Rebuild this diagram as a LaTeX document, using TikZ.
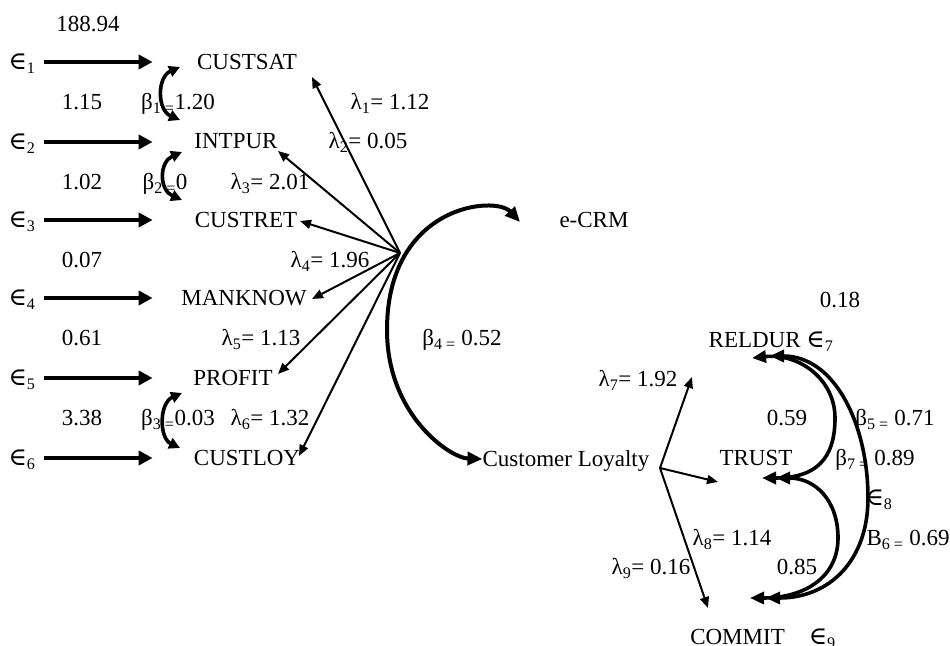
\documentclass[tikz,border=0pt]{standalone}
\usepackage{fontspec}
\setmainfont{Liberation Serif}
\newfontfamily\symfont[Scale=1.08]{DejaVu Serif}
\usetikzlibrary{arrows.meta}
\newcommand\lowidx[1]{\textsubscript{#1}}
\newcommand\eps{{\symfont ∈}}

\begin{document}
\begin{tikzpicture}[x=1pt,y=1pt,
  lbl/.style={inner sep=0pt, text height=15pt, text depth=0pt,
              font=\fontsize{23}{26}\selectfont},
  errarrow/.style={line width=4pt, -{Triangle[length=14pt,width=14pt]}},
  loadarrow/.style={line width=2pt, -{Triangle[length=11pt,width=9pt]}},
  covarrow/.style={line width=3.6pt,
     {Triangle[length=11pt,width=11pt]}-{Triangle[length=11pt,width=11pt]}},
  bigcurve/.style={line width=4pt,
     {Triangle[length=15pt,width=13pt]}-{Triangle[length=15pt,width=13pt]}},
  rightcurve/.style={line width=3.6pt,
     {Triangle[length=14pt,width=12pt]}-{Triangle[length=14pt,width=12pt]}}]
\useasboundingbox (0,0) rectangle (950,645);

% ---------------- left block: errors and indicators ----------------
\node[lbl] (v188) at (88,621) {188.94};
\node[lbl] (v115) at (82,543) {1.15};
\node[lbl] (v102) at (82,463) {1.02};
\node[lbl] (v007) at (82,385) {0.07};
\node[lbl] (v061) at (82,307) {0.61};
\node[lbl] (v338) at (82,227) {3.38};

\node[lbl] (e1) at (22,583) {\eps\lowidx{1}};
\node[lbl] (e2) at (22,503) {\eps\lowidx{2}};
\node[lbl] (e3) at (22,425) {\eps\lowidx{3}};
\node[lbl] (e4) at (22,347) {\eps\lowidx{4}};
\node[lbl] (e5) at (22,267) {\eps\lowidx{5}};
\node[lbl] (e6) at (22,187) {\eps\lowidx{6}};

\node[lbl] (custsat) at (247,583) {CUSTSAT};
\node[lbl] (intpur)  at (236,504) {INTPUR};
\node[lbl] (custret) at (246,425) {CUSTRET};
\node[lbl] (manknow) at (244,347) {MANKNOW};
\node[lbl] (profit)  at (233,267) {PROFIT};
\node[lbl] (custloy) at (247,187) {CUSTLOY};

\foreach \e in {e1,e2,e3,e4,e5,e6}
  \draw[errarrow] ([xshift=8pt]\e.east) -- ++(109pt,0);

% correlations between neighbouring indicators
\node[lbl] (b1) at (178,543) {β\lowidx{1 =}1.20};
\node[lbl] (b2) at (165,463) {β\lowidx{2 =}0};
\node[lbl] (b3) at (178,227) {β\lowidx{3 =}0.03};
\coordinate (b1t) at (180,578); \coordinate (b1b) at (180,525);
\coordinate (b2t) at (182,493); \coordinate (b2b) at (182,445);
\coordinate (b3t) at (182,252); \coordinate (b3b) at (180,197);
\draw[covarrow] (b1t) .. controls (157,568) and (157,535) .. (b1b);
\draw[covarrow] (b2t) .. controls (159,483) and (159,455) .. (b2b);
\draw[covarrow] (b3t) .. controls (159,242) and (159,207) .. (b3b);

% loadings of e-CRM
\coordinate (hubL) at (400,392);
\coordinate (tsat)  at (312,568);
\coordinate (tint)  at (278,494);
\coordinate (tret)  at (300,424);
\coordinate (tman)  at (312,346);
\coordinate (tpro)  at (278,271);
\coordinate (tloy)  at (299,189);
\foreach \t in {tsat,tint,tret,tman,tpro,tloy}
  \draw[loadarrow] (hubL) -- (\t);

\node[lbl] (l1) at (390,543) {λ\lowidx{1}= 1.12};
\node[lbl] (l2) at (368,504) {λ\lowidx{2}= 0.05};
\node[lbl] (l3) at (270,463) {λ\lowidx{3}= 2.01};
\node[lbl] (l4) at (330,385) {λ\lowidx{4}= 1.96};
\node[lbl] (l5) at (261,307) {λ\lowidx{5}= 1.13};
\node[lbl] (l6) at (270,227) {λ\lowidx{6}= 1.32};

% ---------------- latent constructs ----------------
\node[lbl] (ecrm) at (594,425) {e-CRM};
\node[lbl] (loyal) at (566,186) {Customer Loyalty};
\coordinate (ecrmtip) at (520,423);
\draw[bigcurve] (ecrmtip) .. controls (495,450) and (387,440) .. (387,315)
                .. controls (387,230) and (450,187) .. (loyal.west);
\node[lbl] (b4) at (462,307) {β\lowidx{4 =} 0.52};

% ---------------- right block ----------------
\node[lbl] (v018) at (840,345) {0.18};
\node[lbl] (reldur) at (771,305) {RELDUR \eps\lowidx{7}};
\node[lbl] (trust)  at (756,187) {TRUST};
\node[lbl] (commit) at (763,8) {COMMIT\hspace{24pt}\eps\lowidx{9}};

\coordinate (hubR) at (660,177);
\coordinate (trel) at (692,268);
\coordinate (ttru) at (718,163);
\coordinate (tcom) at (708,37);
\foreach \t in {trel,ttru,tcom}
  \draw[loadarrow] (hubR) -- (\t);

\node[lbl] (l7) at (638,266) {λ\lowidx{7}= 1.92};
\node[lbl] (l8) at (732,107) {λ\lowidx{8}= 1.14};
\node[lbl] (l9) at (651,78) {λ\lowidx{9}= 0.16};

\node[lbl] (v059) at (787,227) {0.59};
\node[lbl] (v085) at (797,78) {0.85};
\node[lbl] (b5) at (895,227) {β\lowidx{5 =} 0.71};
\node[lbl] (b7) at (875,187) {β\lowidx{7 =} 0.89};
\node[lbl] (e8) at (879,147) {\eps\lowidx{8}};
\node[lbl] (b6) at (908,107) {B\lowidx{6 =} 0.69};

\coordinate (relA) at (752,287);
\coordinate (relC) at (770,289);
\coordinate (truA) at (762,167);
\coordinate (truB) at (776,167);
\coordinate (comB) at (750,47);
\coordinate (comC) at (766,47);
\draw[rightcurve] (relA) .. controls (800,292) and (835,265) .. (835,227)
                  .. controls (835,185) and (815,167) .. (truA);
\draw[rightcurve] (truB) .. controls (815,167) and (838,145) .. (838,107)
                  .. controls (838,68) and (805,47) .. (comB);
\draw[rightcurve] (relC) .. controls (835,289) and (868,220) .. (868,147)
                  .. controls (868,85) and (830,47) .. (comC);
\end{tikzpicture}
\end{document}
